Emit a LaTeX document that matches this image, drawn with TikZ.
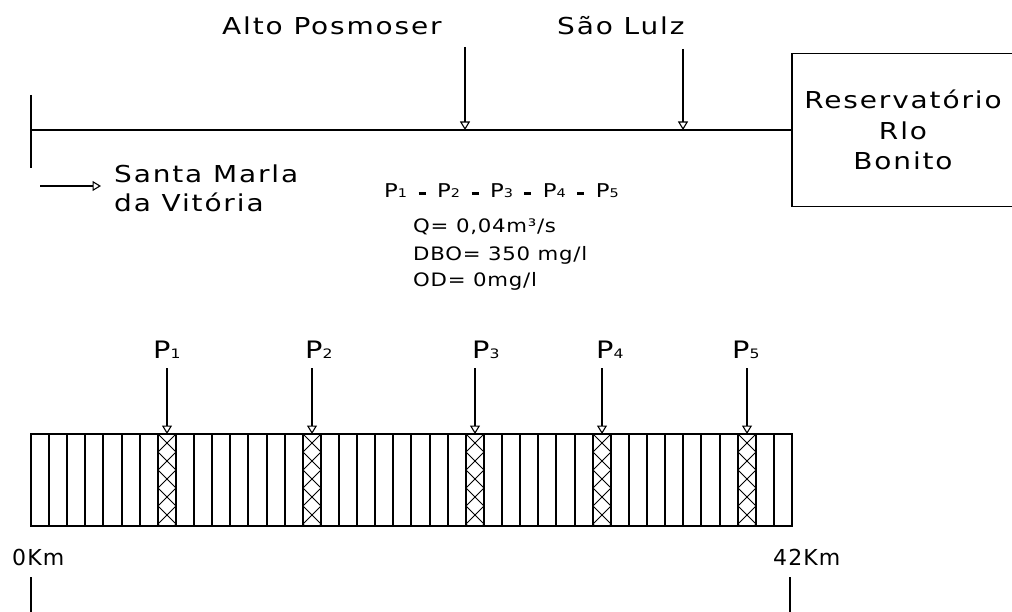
\documentclass[tikz,border=0pt]{standalone}
\usepackage{fontspec}
\setmainfont{DejaVu Sans}
\newfontfamily\cadf{DejaVu Sans}[FakeStretch=1.2,LetterSpace=8]
\newfontfamily\cadsf{DejaVu Sans}[FakeStretch=1.15,LetterSpace=4]
\newfontfamily\cadnf{DejaVu Sans}[LetterSpace=5]
\usetikzlibrary{arrows.meta}
% small digit sitting on the baseline (index of a discharge point)
\newcommand\lowdig[2]{{\fontsize{#1}{#1}\selectfont #2}}
% short bar used as separator in the list of discharge points
\newcommand\pbar{\hspace{11.5pt}\rule[3pt]{7pt}{3pt}\hspace{11.5pt}}
\begin{document}
\begin{tikzpicture}[x=1pt,y=-1pt,
  ln/.style={line width=1.7pt},
  feed/.style={line width=1.5pt,-{Triangle[open,width=10pt,length=8.5pt,line width=1.1pt]}},
  lbl/.style={inner sep=0pt,anchor=base west,font=\cadf\fontsize{23.3}{30}\selectfont},
  lblp/.style={inner sep=0pt,anchor=base west,font=\cadf\fontsize{19}{24}\selectfont},
  lblsm/.style={inner sep=0pt,anchor=base west,font=\cadsf\fontsize{18.5}{24}\selectfont},
  lblkm/.style={inner sep=0pt,anchor=base west,font=\cadnf\fontsize{22}{28}\selectfont},
  stripline/.style={line width=1.7pt},
  hatch/.style={line width=0.9pt},
]
\fill[white] (0,0) rectangle (1012,612);
\useasboundingbox (0,0) rectangle (1012,612);

% ---------------- river schematic ----------------
\coordinate (src) at (31,130);
\coordinate (srcT) at (31,95);
\coordinate (srcB) at (31,168);
\node[draw,ln,minimum width=222pt,minimum height=153pt,inner sep=0pt,
      align=center,font=\cadf\fontsize{23.3}{30.5}\selectfont] (res) at (903,130)
      {Reservatório\\Rlo\\Bonito};
\draw[ln] (srcT) -- (srcB);
\draw[ln] (src) -- (res.west);

% tributaries
\node[lbl] (alto) at (222,35) {Alto Posmoser};
\node[lbl] (saol) at (557,35) {São Lulz};
\coordinate (altoS) at (465,47);
\coordinate (altoE) at (465,130);
\coordinate (saolS) at (683,49);
\coordinate (saolE) at (683,130);
\draw[feed] (altoS) -- (altoE);
\draw[feed] (saolS) -- (saolE);

% town
\coordinate (smA) at (40,186);
\coordinate (smB) at (101,186);
\draw[feed] (smA) -- (smB);
\node[lbl] (sm1) at (114,183) {Santa Marla};
\node[lbl] (sm2) at (114,212) {da Vitória};

% effluent data
\node[lblp] (plist) at (384,198)
  {P\lowdig{12}{1}\pbar P\lowdig{12}{2}\pbar P\lowdig{12}{3}\pbar P\lowdig{12}{4}\pbar P\lowdig{12}{5}};
\node[lblsm] (qv)  at (413,233) {Q= 0,04m³/s};
\node[lblsm] (dbo) at (413,261) {DBO= 350 mg/l};
\node[lblsm] (od)  at (413,287) {OD= 0mg/l};

% ---------------- segmented reach ----------------
\def\w{18.119}
\node[draw,stripline,minimum width=761pt,minimum height=92pt,inner sep=0pt] (river) at (411.5,480) {};
\foreach \i in {1,...,41} {
  \pgfmathsetmacro\xs{round(31+\i*\w)}
  \draw[stripline] (\xs,434) -- (\xs,526);
}

% cross-hatched elements receiving the discharges
\foreach \n in {7,15,24,31,39} {
  \pgfmathsetmacro\xa{round(31+\n*\w)}
  \pgfmathsetmacro\xb{round(31+(\n+1)*\w)}
  \begin{scope}
    \clip (\xa,434) rectangle (\xb,526);
    \foreach \k in {0,...,5} {
      \draw[hatch] (\xa,{434+\k*(\xb-\xa)}) -- ++({\xb-\xa},{\xb-\xa});
      \draw[hatch] (\xb,{434+\k*(\xb-\xa)}) -- ++({\xa-\xb},{\xb-\xa});
    }
  \end{scope}
}

% discharge points
\foreach \n/\d/\lx [count=\c] in {7/1/153,15/2/305,24/3/472,31/4/596,39/5/732} {
  \node[lbl,font=\cadf\fontsize{24}{30}\selectfont] (p\c) at (\lx,358) {P\lowdig{13}{\d}};
  \pgfmathsetmacro\xm{round(31+(\n+0.5)*\w)}
  \coordinate (pa\c) at (\xm,368);
  \coordinate (pb\c) at (\xm,434);
  \draw[feed] (pa\c) -- (pb\c);
}

% distance marks
\node[lblkm] (km0) at (12,565) {0Km};
\node[lblkm] (km42) at (773,565) {42Km};
\coordinate (t0a) at (31,577);
\coordinate (t0b) at (31,615);
\coordinate (t42a) at (790,577);
\coordinate (t42b) at (790,615);
\draw[ln] (t0a) -- (t0b);
\draw[ln] (t42a) -- (t42b);
\end{tikzpicture}
\end{document}
